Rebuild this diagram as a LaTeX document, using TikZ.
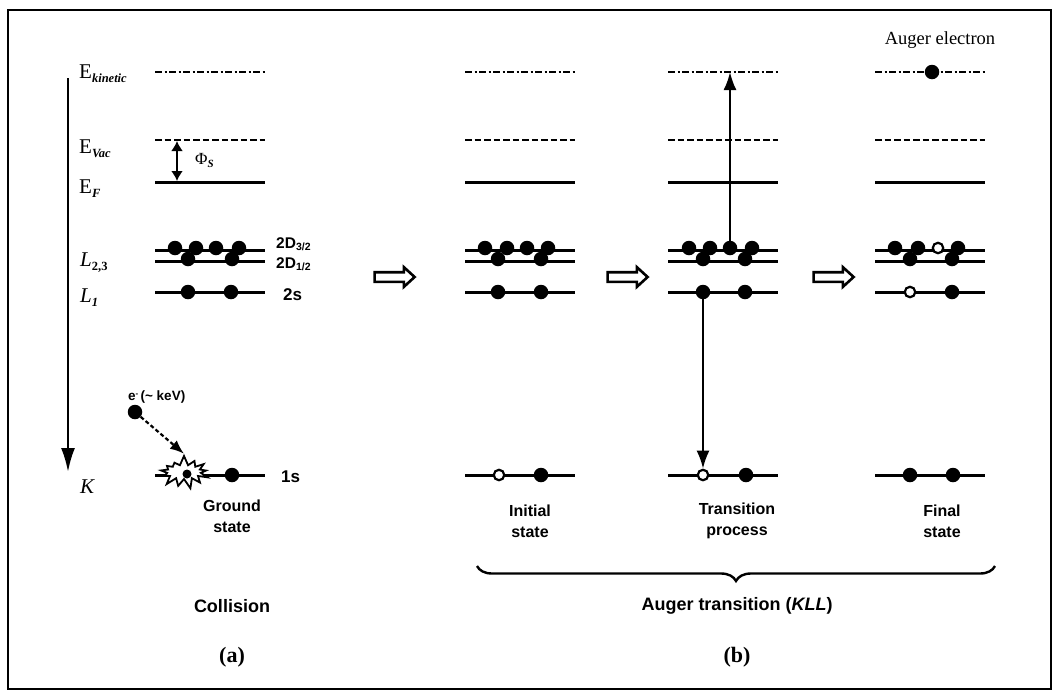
\documentclass[tikz,border=0pt]{standalone}
\usepackage{fontspec}
\setmainfont{Liberation Serif}
\newfontfamily\sansf{Liberation Sans}
\usetikzlibrary{arrows.meta,shapes.symbols,shapes.arrows,decorations.pathreplacing}

% energy levels of one column, starting at x = #2
\newcommand\levelset[2]{%
  \draw[kinlvl] (#2,72)  coordinate (#1kin) -- ++(110,0);
  \draw[vaclvl] (#2,140) coordinate (#1vac) -- ++(110,0);
  \draw[lvl]    (#2,182) coordinate (#1ef)  -- ++(110,0);
  \draw[lvl]    (#2,250) coordinate (#1lu)  -- ++(110,0);
  \draw[lvl]    (#2,261) coordinate (#1ll)  -- ++(110,0);
  \draw[lvl]    (#2,292) coordinate (#1lone) -- ++(110,0);
  \draw[lvl]    (#2,475) coordinate (#1k)   -- ++(110,0);
}

\begin{document}
\begin{tikzpicture}[x=1pt,y=-1pt,
  lvl/.style={line width=3pt},
  kinlvl/.style={line width=2.6pt, dash pattern=on 7pt off 2.5pt on 2pt off 2.5pt},
  vaclvl/.style={line width=2.6pt, dash pattern=on 6.5pt off 3pt},
  el/.style={circle, fill=black, inner sep=0pt, minimum size=14.5pt},
  hole/.style={circle, draw=black, fill=white, line width=2.2pt, inner sep=0pt, minimum size=10.5pt},
  serlbl/.style={font=\fontsize{21}{22}\selectfont, inner sep=0pt},
  sanslbl/.style={font=\sansf\bfseries\fontsize{16}{21}\selectfont, align=center, inner sep=0pt},
  titlelbl/.style={font=\sansf\bfseries\fontsize{18}{20}\selectfont, inner sep=0pt},
  panellbl/.style={font=\bfseries\fontsize{22}{22}\selectfont, inner sep=0pt},
  flowarrow/.style={single arrow, draw, line width=2.6pt, fill=white, minimum height=40pt,
    inner xsep=0pt, inner ysep=3.5pt, single arrow head extend=5pt, single arrow tip angle=85},
  trans/.style={line width=2.2pt, -{Latex[length=18pt,width=13pt]}},
]
\useasboundingbox (0,0) rectangle (1055,691);
\draw[line width=2.6pt] (8,10) rectangle (1051,689);

% energy axis
\coordinate (axtop) at (68,78);
\coordinate (axbot) at (68,472);
\draw[line width=2.5pt, -{Latex[length=24pt,width=14pt]}] (axtop) -- (axbot);

% level names
\node[serlbl, anchor=west] (lkin) at (79,74) {E\raisebox{-4pt}{\fontsize{12.5}{12}\selectfont\bfseries\itshape kinetic}};
\node[serlbl, anchor=west] (lvac) at (79,149) {E\raisebox{-4pt}{\fontsize{12.5}{12}\selectfont\bfseries\itshape Vac}};
\node[serlbl, anchor=west] (lef) at (79,189) {E\raisebox{-4pt}{\fontsize{12.5}{12}\selectfont\bfseries\itshape F}};
\node[serlbl, anchor=west] (llu) at (80,263) {\itshape L\raisebox{-4pt}{\fontsize{12.5}{12}\selectfont\bfseries\upshape 2,3}};
\node[serlbl, anchor=west] (llo) at (80,298) {\itshape L\raisebox{-4pt}{\fontsize{12.5}{12}\selectfont\bfseries 1}};
\node[serlbl, anchor=west] (lk) at (80,487) {\itshape K};

% columns of levels
\levelset{a}{155}
\levelset{i}{465}
\levelset{t}{668}
\levelset{f}{875}

% work function
\draw[line width=2.2pt, {Latex[length=10pt,width=12pt]}-{Latex[length=10pt,width=12pt]}] (177,141) -- (177,181);
\node[serlbl, anchor=west] (phi) at (195,160) {\fontsize{17}{17}\selectfont Φ\raisebox{-3pt}{\fontsize{11}{11}\selectfont\bfseries\itshape S}};

% orbital names
\node[font=\sansf\bfseries\fontsize{15.5}{15}\selectfont, anchor=west, inner sep=0pt] (p32) at (276,244) {2D\raisebox{-2pt}{\fontsize{10.5}{10}\selectfont 3/2}};
\node[font=\sansf\bfseries\fontsize{15.5}{15}\selectfont, anchor=west, inner sep=0pt] (p12) at (276,264) {2D\raisebox{-2pt}{\fontsize{10.5}{10}\selectfont 1/2}};
\node[font=\sansf\bfseries\fontsize{17}{16}\selectfont, anchor=west, inner sep=0pt] (s2) at (283,295) {2s};
\node[font=\sansf\bfseries\fontsize{17}{16}\selectfont, anchor=west, inner sep=0pt] (s1) at (281,477) {1s};

% (a) ground state electrons
\foreach \n/\x in {1/20,2/41,3/61,4/84} \node[el] (au\n) at (155+\x,248) {};
\foreach \n/\x in {1/33,2/77} \node[el] (al\n) at (155+\x,259) {};
\foreach \n/\x in {1/33,2/76} \node[el] (as\n) at (155+\x,292) {};
\node[starburst, draw, fill=white, line width=1.8pt, starburst points=13, starburst point height=10pt,
  minimum width=54pt, minimum height=34pt, inner sep=0pt, random starburst=7] (burst) at (184,472) {};
\node[el, minimum size=9pt] (kcore) at (187,474) {};
\node[el] (ak2) at (232,475) {};
\node[el] (eminus) at (135,412) {};
\node[font=\sansf\bfseries\fontsize{13.5}{13}\selectfont, anchor=west, inner sep=0pt] (elbl) at (128,397) {e\raisebox{4pt}{\fontsize{8}{8}\selectfont -}\,(\textasciitilde\ keV)};
\draw[line width=2.2pt, dash pattern=on 4pt off 2.5pt, -{Latex[length=14pt,width=11pt]}] (eminus) -- (burst.north);
\node[sanslbl] (ground) at (232,516) {Ground\\state};

% initial state
\foreach \n/\x in {1/20,2/42,3/62,4/83} \node[el] (iu\n) at (465+\x,248) {};
\foreach \n/\x in {1/33,2/76} \node[el] (il\n) at (465+\x,259) {};
\foreach \n/\x in {1/33,2/76} \node[el] (is\n) at (465+\x,292) {};
\node[hole] (ik1) at (465+34,475) {};
\node[el] (ik2) at (465+76,475) {};
\node[sanslbl] (initial) at (530,521) {Initial\\state};

% transition process
\foreach \n/\x in {1/21,2/42,3/62,4/84} \node[el] (tu\n) at (668+\x,248) {};
\foreach \n/\x in {1/35,2/77} \node[el] (tl\n) at (668+\x,259) {};
\foreach \n/\x in {1/35,2/77} \node[el] (ts\n) at (668+\x,292) {};
\node[hole] (tk1) at (668+35,475) {};
\node[el] (tk2) at (668+78,475) {};
\coordinate (tkin) at (730,72);
\draw[trans] (tu3.center) -- (tkin);
\draw[trans] (ts1.center) -- (tk1.north);
\node[sanslbl] (transition) at (737,521) {Transition\\process};

% final state
\node[el] (auger) at (932,72) {};
\node[font=\fontsize{18.5}{18}\selectfont, inner sep=0pt] (augerlbl) at (940,40) {Auger electron};
\foreach \n/\x in {1/20,2/43,4/83} \node[el] (fu\n) at (875+\x,248) {};
\node[hole] (fu3) at (875+63,248) {};
\foreach \n/\x in {1/35,2/77} \node[el] (fl\n) at (875+\x,259) {};
\node[hole] (fs1) at (875+35,292) {};
\node[el] (fs2) at (875+77,292) {};
\node[el] (fk1) at (875+35,475) {};
\node[el] (fk2) at (875+78,475) {};
\node[sanslbl] (final) at (942,521) {Final\\state};

% sequence arrows
\node[flowarrow] (ab) at (392,277) {};
\node[flowarrow] (it) at (625,277) {};
\node[flowarrow] (tf) at (831,277) {};

% brace and captions
\draw[line width=2.4pt, decorate, decoration={brace, mirror, amplitude=15pt}] (477,566) -- (995,566);
\node[titlelbl] (collision) at (232,606) {Collision};
\node[titlelbl] (auger trans) at (737,606) {Auger transition (\itshape KLL\/\upshape)};
\node[panellbl] (pa) at (232,657) {(a)};
\node[panellbl] (pb) at (737,657) {(b)};
\end{tikzpicture}
\end{document}
